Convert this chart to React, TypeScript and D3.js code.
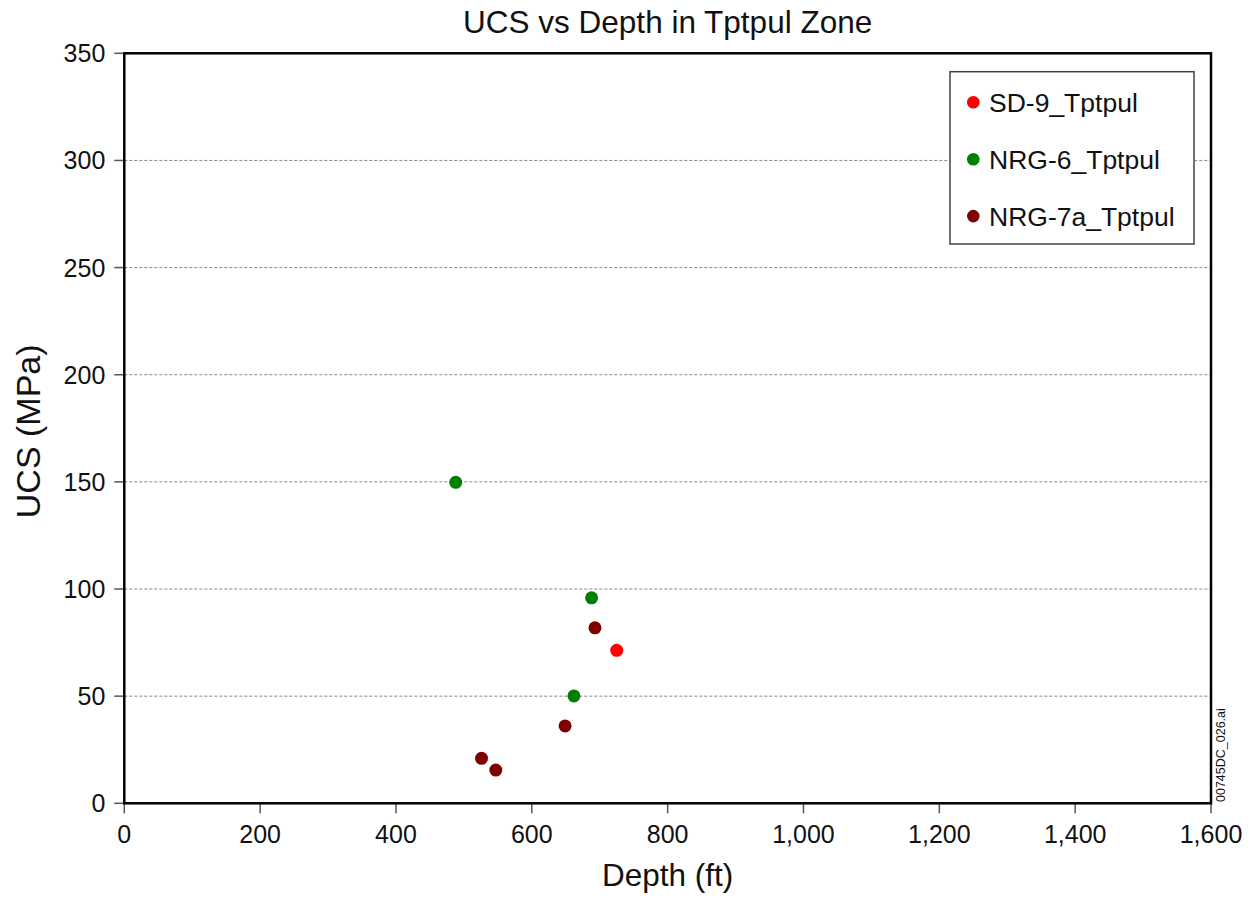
import React from "react";
import * as d3 from "d3";

const seriesNames = ["SD-9_Tptpul", "NRG-6_Tptpul", "NRG-7a_Tptpul"];
const seriesColors = ["#ff0000", "#008000", "#7f0000"];

const sd9Depth = [725];
const sd9Ucs = [71.4];
const nrg6Depth = [488, 688, 662];
const nrg6Ucs = [149.8, 95.9, 50.1];
const nrg7aDepth = [693, 649, 526, 547];
const nrg7aUcs = [81.9, 36.1, 21.0, 15.5];

const xTicks = [0, 200, 400, 600, 800, 1000, 1200, 1400, 1600];
const yTicks = [0, 50, 100, 150, 200, 250, 300, 350];

export default function App() {
  const W = 1255, H = 901;
  const left = 124.3, right = 1211, top = 53.3, bottom = 803.3;
  const x = d3.scaleLinear().domain([0, 1600]).range([left, right]);
  const y = d3.scaleLinear().domain([0, 350]).range([bottom, top]);
  const fmt = d3.format(",");
  const series = [
    { depth: sd9Depth, ucs: sd9Ucs },
    { depth: nrg6Depth, ucs: nrg6Ucs },
    { depth: nrg7aDepth, ucs: nrg7aUcs },
  ];
  const font = "Arial, 'Liberation Sans', Helvetica, sans-serif";
  return (
    <svg width={W} height={H} style={{ position: "absolute", left: 0, top: 0, fontFamily: font }}>
      <rect width={W} height={H} fill="#fff" />
      <text x={(left + right) / 2} y={33} textAnchor="middle" fontSize={31.5} fill="#111">
        UCS vs Depth in Tptpul Zone
      </text>
      {yTicks.filter((t) => t > 0 && t < 350).map((t) => (
        <line key={"g" + t} x1={left} x2={right} y1={y(t)} y2={y(t)} stroke="#888" strokeWidth={1} strokeDasharray="3,2" />
      ))}
      {yTicks.map((t) => (
        <g key={"y" + t}>
          <line x1={left - 10} x2={left} y1={y(t)} y2={y(t)} stroke="#555" strokeWidth={1.5} />
          <text x={left - 19} y={y(t)} dy="0.36em" textAnchor="end" fontSize={25} fill="#111">{t}</text>
        </g>
      ))}
      {xTicks.map((t) => (
        <g key={"x" + t}>
          <line x1={x(t)} x2={x(t)} y1={bottom} y2={bottom + 10} stroke="#555" strokeWidth={1.5} />
          <text x={x(t)} y={843} textAnchor="middle" fontSize={25} fill="#111">{fmt(t)}</text>
        </g>
      ))}
      <rect x={left} y={top} width={right - left} height={bottom - top} fill="none" stroke="#000" strokeWidth={2.5} />
      {series.map((s, i) =>
        s.depth.map((d, j) => (
          <circle key={i + "-" + j} cx={x(d)} cy={y(s.ucs[j])} r={6.5} fill={seriesColors[i]} />
        ))
      )}
      <rect x={950} y={71.7} width={244} height={172.3} fill="#fff" stroke="#444" strokeWidth={1.5} />
      {seriesNames.map((n, i) => (
        <g key={n}>
          <circle cx={973.3} cy={102.3 + i * 56.9} r={6.3} fill={seriesColors[i]} />
          <text x={989} y={102.3 + i * 56.9} dy="0.36em" fontSize={26.5} fill="#111">{n}</text>
        </g>
      ))}
      <text x={(left + right) / 2} y={886} textAnchor="middle" fontSize={31.5} fill="#111">Depth (ft)</text>
      <text transform={`translate(40,${(top + bottom) / 2 + 3}) rotate(-90)`} textAnchor="middle" fontSize={34} fill="#111">UCS (MPa)</text>
      <text transform={`translate(1225,802) rotate(-90)`} textAnchor="start" fontSize={12.5} fill="#111">00745DC_026.ai</text>
    </svg>
  );
}
